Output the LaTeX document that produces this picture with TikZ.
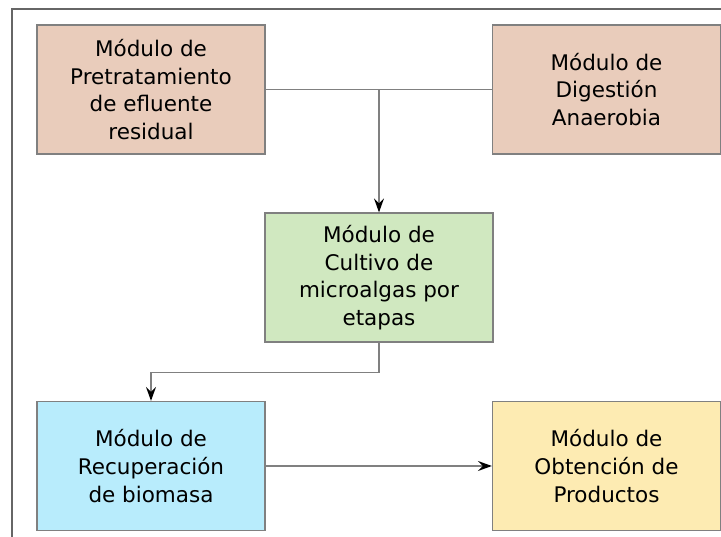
\documentclass[tikz,border=0pt]{standalone}
\usepackage{fontspec}
\setmainfont{DejaVu Sans}
\usetikzlibrary{positioning,arrows.meta}
\definecolor{peach}{RGB}{233,204,187}
\definecolor{leaf}{RGB}{208,232,192}
\definecolor{sky}{RGB}{184,236,252}
\definecolor{sand}{RGB}{253,235,178}
\definecolor{edgegray}{RGB}{128,128,128}
\begin{document}
\begin{tikzpicture}[
		x=1pt,
		y=-1pt,
		every node/.style={
				draw=edgegray,
				line width=1.2pt,
				align=center,
				minimum width=228pt,
				minimum height=129pt,
				inner sep=0pt,
				font=\fontsize{21.5}{27.6}\selectfont
			},
		link/.style={
				draw=edgegray,
				line width=1.6pt
			},
		arrow/.style={
				link,
				-{Stealth[black,length=14pt,width=10pt,inset=5pt]}
			}
	]
	\useasboundingbox (0,0) rectangle (721,537);
	\draw[draw=black!60, line width=2pt] (12,537) -- (12,9) -- (721,9);
	\node[fill=peach] (pretrat) at (151,89.5) {Módulo de\\Pretratamiento\\de efluente\\residual};
	\node[fill=peach] (digest) at (606.5,89.5) {Módulo de\\Digestión\\Anaerobia};
	\node[fill=leaf] (cultivo) at (379,277.5) {Módulo de\\Cultivo de\\microalgas por\\etapas};
	\node[fill=sky] (recup) at (151,466) {Módulo de\\Recuperación\\de biomasa};
	\node[fill=sand] (obtencion) at (606.5,466) {Módulo de\\Obtención de\\Productos};
	\coordinate (junction) at (pretrat.east -| cultivo.north);
	\draw[link] (pretrat.east) -- (digest.west);
	\draw[arrow] (junction) -- (cultivo.north);
	\draw[arrow] (cultivo.south) -- ++(0,30) -| (recup.north);
	\draw[arrow] (recup) -- (obtencion);
\end{tikzpicture}
\end{document}
